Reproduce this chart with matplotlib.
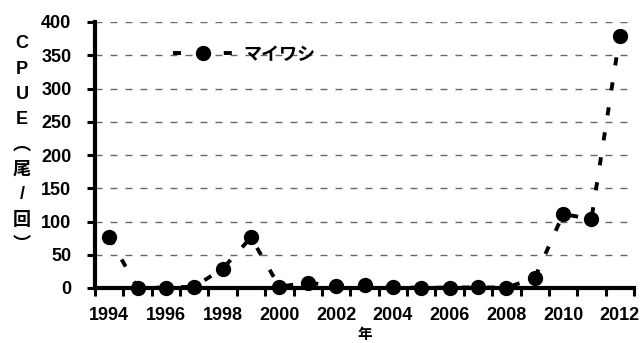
import matplotlib.pyplot as plt
from matplotlib.lines import Line2D
import numpy as np

plt.rcParams['font.family'] = ['Liberation Sans', 'Noto Sans CJK JP', 'DejaVu Sans']
plt.rcParams['font.weight'] = 'bold'

years = list(range(1994, 2013))
cpue = [76, 0.5, 0.5, 2, 29, 76, 2, 8, 3, 4, 1, 0.5, 0.5, 1, 0.5, 15, 111, 104, 379]
tick_labels = [str(y) if y % 2 == 0 else '' for y in years]
ylabel_chars = ['C', 'P', 'U', 'E', '︵', '尾', '/', '回', '︶']

fig = plt.figure(figsize=(6.42, 3.43), dpi=100)
ax = fig.add_axes([95/642, 55/343, 539/642, 266/343])

x = np.arange(len(years))
ax.plot(x, cpue, color='black', linewidth=2.8, dashes=(2.1, 4.4),
        marker='o', markersize=10, markerfacecolor='black',
        markeredgecolor='black', clip_on=False, zorder=3)

ax.set_xlim(-0.5, len(years) - 0.5)
ax.set_ylim(0, 400)
ax.set_yticks(np.arange(0, 401, 50))
ax.set_xticks(x)
ax.set_xticklabels(tick_labels)
ax.set_xticks(np.arange(-0.5, len(years), 1), minor=True)
ax.tick_params(axis='x', which='major', length=0, pad=14, labelsize=13)
ax.tick_params(axis='x', which='minor', length=5.5, width=2.2, direction='out')
ax.tick_params(axis='y', length=6, width=2.2, direction='out', labelsize=13, pad=11)

for t in ax.get_xticklabels() + ax.get_yticklabels():
    t.set_fontweight('bold')

ax.grid(axis='y', color='#666666', linewidth=1.0, dashes=(5, 5.8))
ax.set_axisbelow(True)
for s in ['top', 'right']:
    ax.spines[s].set_visible(False)
ax.spines['left'].set_linewidth(3)
ax.spines['bottom'].set_linewidth(3)

ax.set_xlabel('年', family=['Noto Sans CJK JP'], fontsize=10.5, fontweight='bold', labelpad=1)

# vertical stacked y label
for i, ch in enumerate(ylabel_chars):
    fam = ['Liberation Sans'] if ch in 'CPUE/' else ['Noto Sans CJK JP']
    fig.text(22/642, 1 - (44 + i * 25.1)/343, ch, ha='center', va='center',
             fontsize=13, fontweight='bold', family=fam)

handle = Line2D([], [], color='black', linewidth=2.8, dashes=(2.06, 11),
                marker='o', markersize=10, markerfacecolor='black')
ax.legend([handle], ['マイワシ'], loc='upper left', bbox_to_anchor=(0.145, 0.915),
          frameon=False, borderaxespad=0, borderpad=0,
          prop={'family': 'Noto Sans CJK JP', 'weight': 'bold', 'size': 13},
          handlelength=3.3, handletextpad=0.6)

fig.savefig('out.png', dpi=100)
